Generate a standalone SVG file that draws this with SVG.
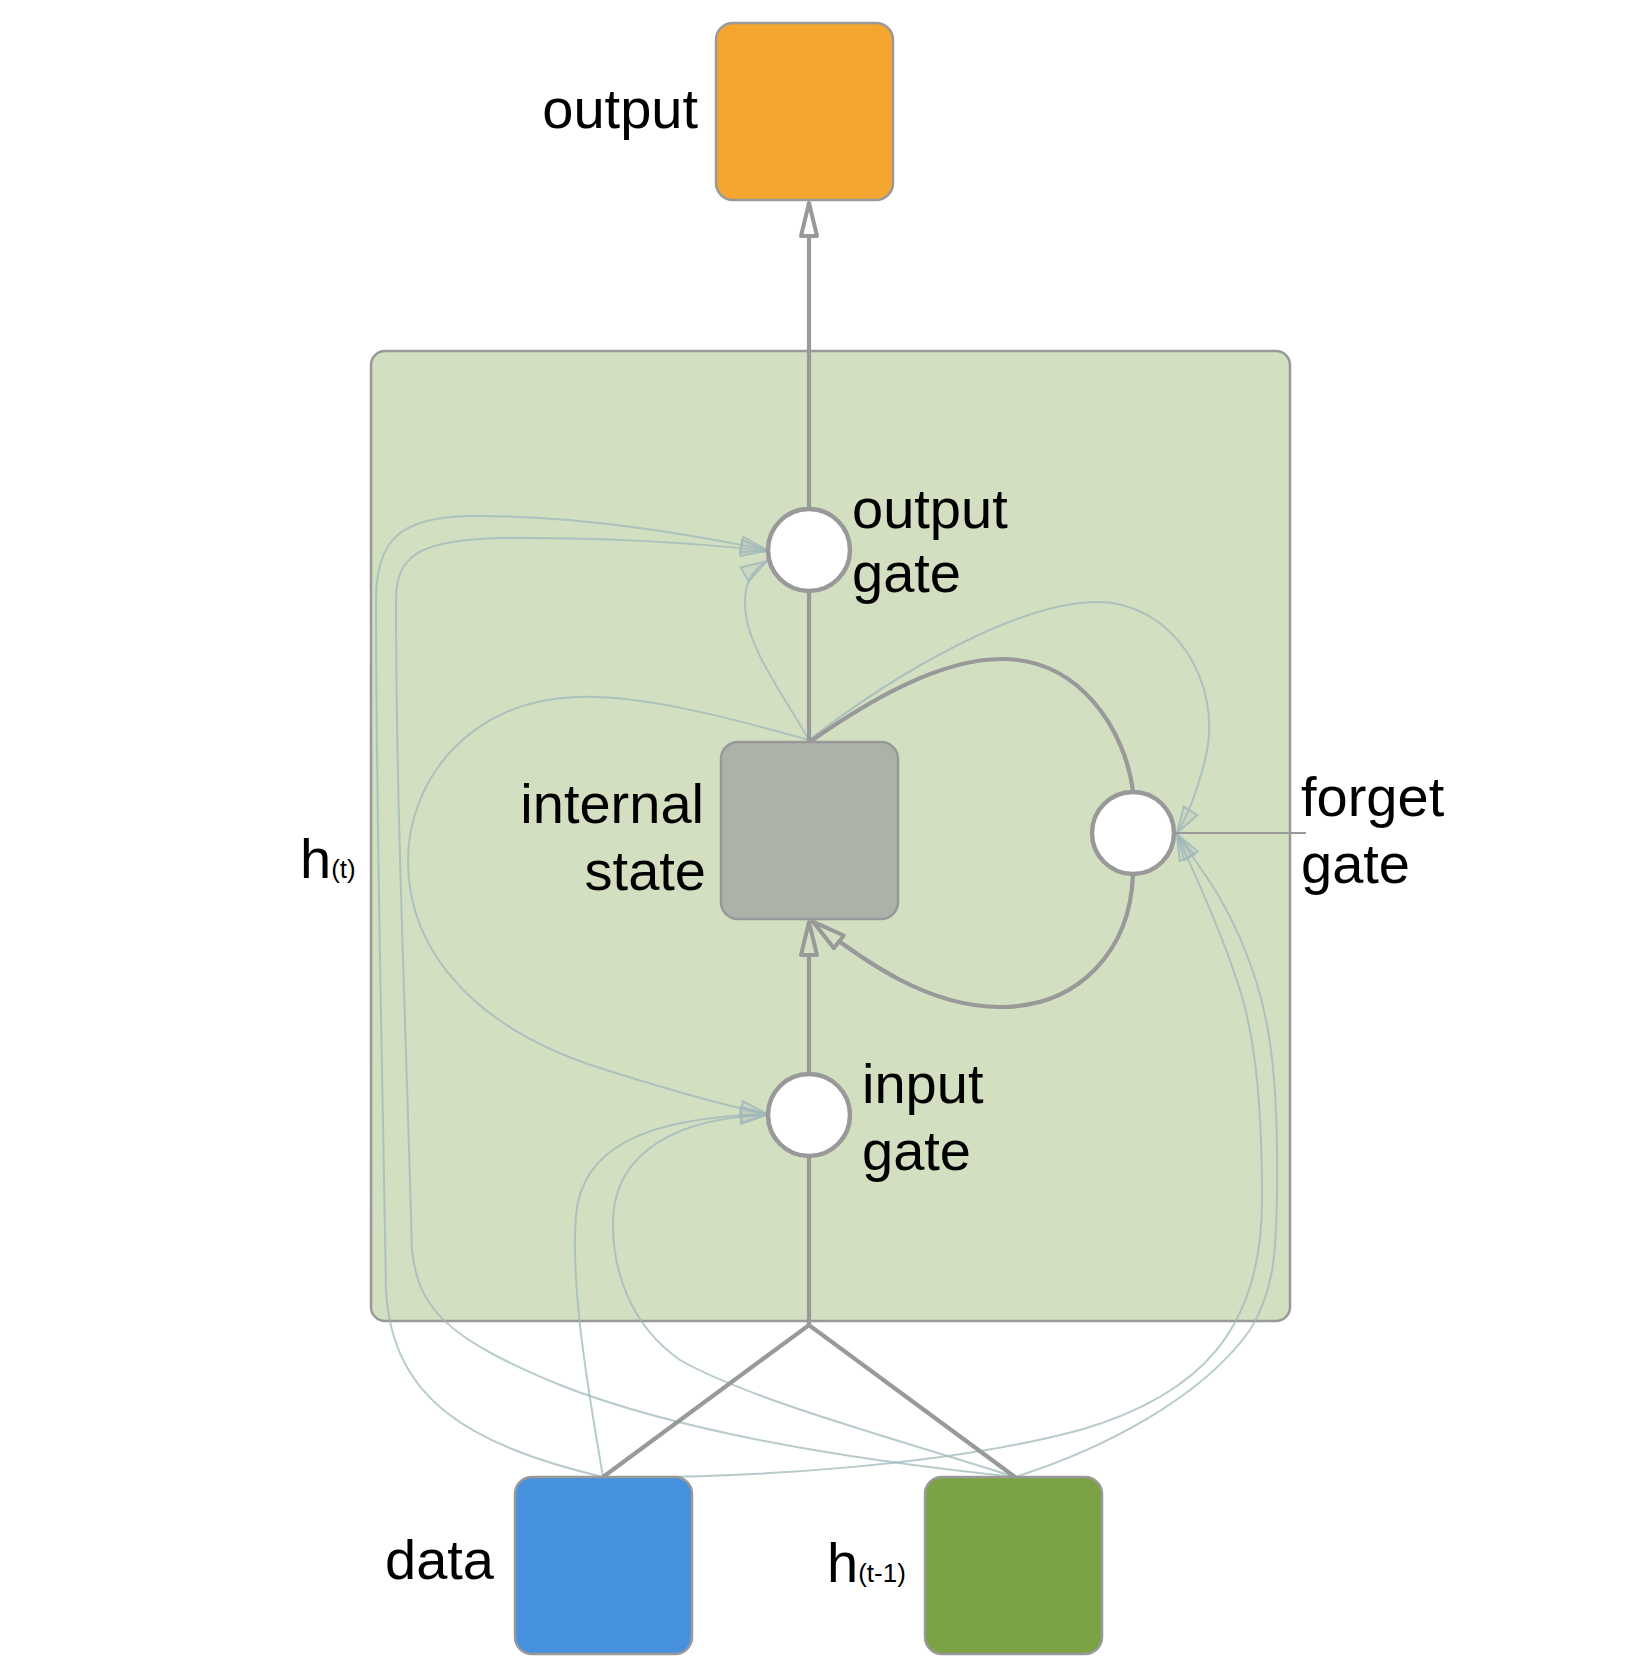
<svg xmlns="http://www.w3.org/2000/svg" width="1628" height="1678" viewBox="0 0 1628 1678">
<style>
.lbl{font-family:"Liberation Sans",Arial,sans-serif;font-size:56px;fill:#000}
.sub{font-size:26px}
.box{stroke:#999;stroke-width:2.5}
.gate{fill:#fff;stroke:#999;stroke-width:4.5}
.thick{fill:none;stroke:#999;stroke-width:4.2}
.thin{fill:none;stroke:#999;stroke-width:2}
.light{fill:none;stroke:#9fb8bb;stroke-width:2;stroke-opacity:0.75}
</style>
<defs>
<marker id="arrG" viewBox="0 0 42 26" refX="38" refY="13" markerWidth="42" markerHeight="26" orient="auto" markerUnits="userSpaceOnUse">
<path d="M4,5 L37,13 L4,21 Z" fill="#D3DFC1" stroke="#999" stroke-width="4" stroke-linejoin="round"/>
</marker>
<marker id="arrW" viewBox="0 0 42 26" refX="38" refY="13" markerWidth="42" markerHeight="26" orient="auto" markerUnits="userSpaceOnUse">
<path d="M4,5 L37,13 L4,21 Z" fill="#fff" stroke="#999" stroke-width="4" stroke-linejoin="round"/>
</marker>
<marker id="arrL" viewBox="0 0 32 22" refX="29" refY="11" markerWidth="32" markerHeight="22" orient="auto" markerUnits="userSpaceOnUse">
<path d="M3,3 L29,11 L3,19 Z" fill="#9fb8bb" fill-opacity="0.15" stroke="#9fb8bb" stroke-opacity="0.8" stroke-width="2"/>
</marker>
</defs>
<rect width="1628" height="1678" fill="#fff"/>
<g id="cell">
<rect x="371" y="351" width="919" height="970" rx="14" fill="#D3DFC1" class="box"/>
<text class="lbl" x="300" y="878">h<tspan class="sub">(t)</tspan></text>
</g>
<g id="connectors">
<path class="light" d="M603,1477 C470,1445 392,1400 386,1290 C381,1000 376,800 376,600 C376,540 400,517 470,516 C570,515 680,532 767,550" marker-end="url(#arrL)"/>
<path class="light" d="M1015,1477 C900,1465 700,1440 560,1385 C450,1340 418,1310 412,1250 C405,1000 396,800 396,600 C396,555 420,540 500,538 C600,537 700,543 767,551" marker-end="url(#arrL)"/>
<path class="light" d="M603,1477 C590,1400 570,1290 576,1215 C582,1150 640,1118 767,1114" marker-end="url(#arrL)"/>
<path class="light" d="M1015,1477 C900,1440 750,1400 680,1360 C630,1325 612,1270 613,1220 C615,1150 680,1118 767,1115" marker-end="url(#arrL)"/>
<path class="light" d="M603,1477 C750,1479 950,1465 1080,1430 C1200,1395 1262,1330 1262,1200 C1262,1100 1255,1030 1235,975 C1215,915 1192,870 1177,834" marker-end="url(#arrL)"/>
<path class="light" d="M1015,1477 C1100,1450 1200,1400 1250,1330 C1275,1290 1278,1250 1277,1150 C1276,1050 1265,1000 1245,950 C1222,892 1195,862 1177,834" marker-end="url(#arrL)"/>
<path class="light" d="M809,740 C900,670 1020,602 1098,602 C1170,602 1225,680 1205,760 C1200,780 1190,812 1177,833" marker-end="url(#arrL)"/>
<path class="light" d="M809,740 C780,690 746,645 745,605 C744,585 752,570 767,561" marker-end="url(#arrL)"/>
<path class="light" d="M809,740 C720,715 640,695 577,697 C470,700 408,780 408,861 C408,955 480,1030 600,1068 C660,1087 720,1105 767,1114" marker-end="url(#arrL)"/>
<path class="thin" d="M1176,833 L1306,833"/>
<path class="thick" d="M809,509 L809,202" marker-end="url(#arrW)"/>
<path class="thick" d="M809,742 L809,591"/>
<path class="thick" d="M809,1073 L809,921" marker-end="url(#arrG)"/>
<path class="thick" d="M603,1477 L809,1325 L1015,1477"/>
<path class="thick" d="M809,1325 L809,1157"/>
<path class="thick" d="M811,741 C870,700 940,659 1002,659 C1080,659 1125,730 1133,791"/>
<path class="thick" d="M1133,875 C1130,950 1080,1006 1002,1007 C930,1008 865,962 812,921" marker-end="url(#arrG)"/>
</g>
<g id="output">
<rect x="716" y="23" width="177" height="177" rx="17" fill="#F5A630" class="box"/>
<text class="lbl" x="698" y="128" text-anchor="end">output</text>
</g>
<g id="output_gate">
<circle cx="809" cy="550" r="41" class="gate"/>
<text class="lbl" x="852" y="528">output</text>
<text class="lbl" x="852" y="592">gate</text>
</g>
<g id="internal_state">
<rect x="721" y="742" width="177" height="177" rx="17" fill="#ABB2A7" class="box"/>
<text class="lbl" x="704" y="823" text-anchor="end">internal</text>
<text class="lbl" x="706" y="890" text-anchor="end">state</text>
</g>
<g id="forget_gate">
<circle cx="1133" cy="833" r="41" class="gate"/>
<text class="lbl" x="1301" y="816">forget</text>
<text class="lbl" x="1301" y="883">gate</text>
</g>
<g id="input_gate">
<circle cx="809" cy="1115" r="41" class="gate"/>
<text class="lbl" x="862" y="1103">input</text>
<text class="lbl" x="862" y="1170">gate</text>
</g>
<g id="data">
<rect x="515" y="1477" width="177" height="177" rx="17" fill="#4591DE" class="box"/>
<text class="lbl" x="494" y="1579" text-anchor="end">data</text>
</g>
<g id="h_prev">
<rect x="925" y="1477" width="177" height="177" rx="17" fill="#7BA346" class="box"/>
<text class="lbl" x="827" y="1582">h<tspan class="sub">(t-1)</tspan></text>
</g>
</svg>
